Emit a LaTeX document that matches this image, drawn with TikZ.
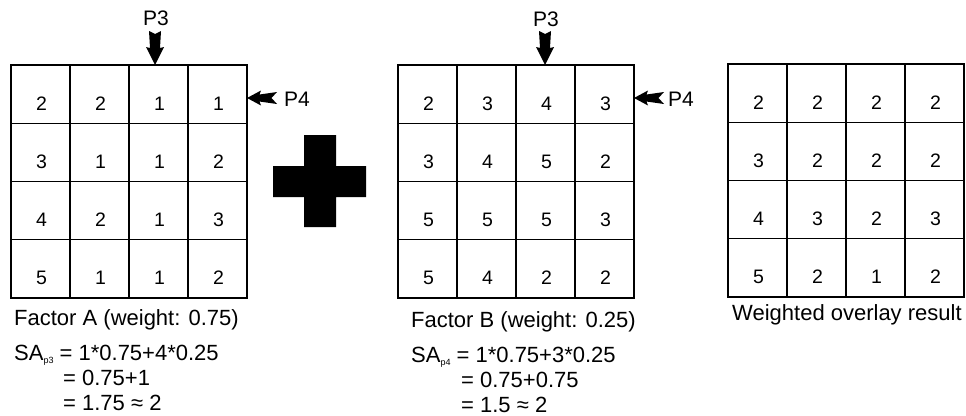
\documentclass[tikz,border=0pt]{standalone}
\usepackage{fontspec}
\setmainfont{Liberation Sans}
\begin{document}
\begin{tikzpicture}[x=1pt,y=-1pt,
  gridline/.style={line width=1.4pt, line cap=rect},
  digit/.style={anchor=base, inner sep=0pt, font=\fontsize{19.5}{19.5}\selectfont},
  lbl/.style={anchor=base west, inner sep=0pt, font=\fontsize{22}{22}\selectfont},
  plbl/.style={anchor=base west, inner sep=0pt, font=\fontsize{21}{21}\selectfont},
  arrowfill/.style={fill=black}]
\useasboundingbox (0,0) rectangle (966,415);
\newcommand{\sub}[1]{{\fontsize{9}{9}\selectfont\raisebox{-3.5pt}{#1}}}
% grids
\foreach \gx/\gy/\gn/\vals in {11/65/A/{2,2,1,1,3,1,1,2,4,2,1,3,5,1,1,2},
                               398/65/B/{2,3,4,3,3,4,5,2,5,5,5,3,5,4,2,2},
                               728/64/C/{2,2,2,2,3,2,2,2,4,3,2,3,5,2,1,2}}{
  \foreach \i in {0,...,4}{
    \draw[gridline] (\gx+59*\i,\gy) -- (\gx+59*\i,\gy+233);
    \draw[gridline] (\gx,\gy+58.25*\i) -- (\gx+236,\gy+58.25*\i);
  }
  \foreach \v [count=\k from 0] in \vals{
    \pgfmathtruncatemacro{\r}{int(\k/4)}
    \pgfmathtruncatemacro{\c}{mod(\k,4)}
    \node[digit] (\gn-\r-\c) at (\gx+29.5+59*\c+1,\gy+58.25*\r+45) {\v};
  }
}
% plus sign
\fill (304,135) -- (336,135) -- (336,166) -- (366,166) -- (366,197) -- (336,197)
      -- (336,227) -- (304,227) -- (304,197) -- (273,197) -- (273,166) -- (304,166) -- cycle;
% P3 / P4 arrows
\coordinate (tA3) at (155,65);
\coordinate (tB3) at (545,65);
\coordinate (tA4) at (247,98);
\coordinate (tB4) at (634,98);
\foreach \t in {tA3,tB3}{
  \fill[arrowfill,shift={(\t)}] (0,0) -- (-9,-18) -- (-5,-17) -- (-6,-34) -- (0,-31)
     -- (6,-34) -- (5,-17) -- (9,-18) -- cycle;
}
\foreach \t in {tA4,tB4}{
  \fill[arrowfill,shift={(\t)}] (0,0) -- (14,-7.5) -- (12.5,-3.5) -- (30,-6) -- (24.5,0)
     -- (30,6) -- (12.5,3.5) -- (14,7.5) -- cycle;
}
\node[plbl] (pA3) at (143,25) {P3};
\node[plbl] (pB3) at (533,27) {P3};
\node[plbl] (pA4) at (284,106) {P4};
\node[plbl] (pB4) at (668,106) {P4};
% captions
\node[lbl] (capA) at (14,325) {Factor A (weight: 0.75)};
\node[lbl] (capB) at (411,327) {Factor B (weight: 0.25)};
\node[lbl] (capC) at (732,320) {Weighted overlay result};
% formulas
\node[lbl] (fA1) at (14,360) {SA\sub{p3} = 1*0.75+4*0.25};
\node[lbl] (fA2) at (63,385) {= 0.75+1};
\node[lbl] (fA3) at (63,410) {= 1.75 ≈ 2};
\node[lbl] (fB1) at (411,362) {SA\sub{p4} = 1*0.75+3*0.25};
\node[lbl] (fB2) at (461,387) {= 0.75+0.75};
\node[lbl] (fB3) at (461,412) {= 1.5 ≈ 2};
\end{tikzpicture}
\end{document}
